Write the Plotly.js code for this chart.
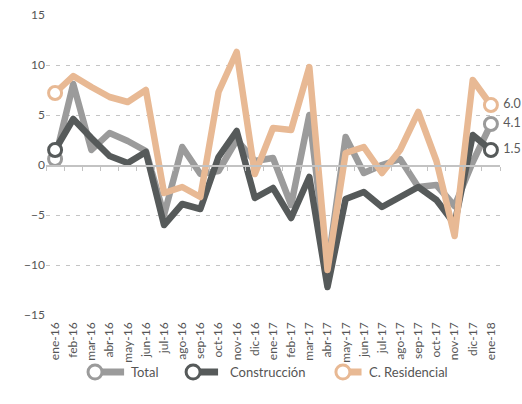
<!DOCTYPE html>
<html>
<head>
<meta charset="utf-8">
<script src="https://cdn.plot.ly/plotly-3.0.1.min.js"></script>
<style>
  html, body { margin: 0; padding: 0; background: #fff; }
  #chart { width: 522px; height: 404px; }
  .scatterlayer path.js-line { stroke-linejoin: round !important; stroke-linecap: round !important; }
</style>
</head>
<body>
<div id="chart"></div>
<script>
const months = ['ene-16','feb-16','mar-16','abr-16','may-16','jun-16','jul-16','ago-16','sep-16','oct-16','nov-16','dic-16',
                'ene-17','feb-17','mar-17','abr-17','may-17','jun-17','jul-17','ago-17','sep-17','oct-17','nov-17','dic-17','ene-18'];
const total        = [0.6, 8.1, 1.5, 3.2, 2.4, 1.4, -5.0, 1.8, -0.9, -0.6, 2.5, 0.4, 0.7, -4.0, 5.0, -10.3, 2.8, -0.8, 0.0, 0.6, -2.2, -2.0, -4.1, 0.3, 4.1];
const construccion = [1.5, 4.6, 2.7, 0.9, 0.2, 1.3, -6.0, -3.9, -4.4, 0.8, 3.4, -3.3, -2.3, -5.3, -1.2, -12.2, -3.4, -2.7, -4.2, -3.2, -2.2, -3.5, -5.9, 3.0, 1.5];
const residencial  = [7.2, 8.9, 7.8, 6.8, 6.3, 7.5, -2.8, -2.2, -3.2, 7.3, 11.3, -0.9, 3.7, 3.5, 9.8, -10.5, 1.2, 1.8, -0.8, 1.5, 5.3, 0.4, -7.1, 8.5, 6.0];
const seriesNames  = ['Total', 'Construcción', 'C. Residencial'];
const yTicks       = [-15, -10, -5, 0, 5, 10, 15];

const colors = ['#9b9b9b', '#565a5a', '#e8b994'];
const seriesData = [total, construccion, residencial];
const last = months.length - 1;

const traces = [];
seriesData.forEach((vals, i) => {
  traces.push({
    type: 'scatter', mode: 'lines', x: months, y: vals, name: seriesNames[i],
    line: { color: colors[i], width: 6.5 }, showlegend: false, hoverinfo: 'skip'
  });
});
seriesData.forEach((vals, i) => {
  traces.push({
    type: 'scatter', mode: 'markers+text',
    x: [months[0], months[last]], y: [vals[0], vals[last]],
    text: ['', '\u00a0' + vals[last].toFixed(1)], textposition: 'middle right',
    textfont: { family: 'Lato, sans-serif', size: 12.5, color: '#5a5a5a' },
    marker: { symbol: 'circle', size: 13, color: '#fff', line: { color: colors[i], width: 3 } },
    cliponaxis: false, showlegend: false, hoverinfo: 'skip'
  });
});

// tick marks along the zero line (category boundaries)
const boundaries = [];
for (let k = 0; k <= months.length; k++) boundaries.push(k - 0.5);

// custom legend
const legendX = [0.108, 0.324, 0.654];
const legendLineEnd = [0.172, 0.379, 0.695];
const legendTextX = [0.183, 0.400, 0.708];
const legendY = -0.19;
const shapes = [];
const annotations = [];
seriesNames.forEach((name, i) => {
  shapes.push({ type: 'line', xref: 'paper', yref: 'paper', x0: legendX[i], x1: legendLineEnd[i], y0: legendY, y1: legendY,
                line: { color: colors[i], width: 7 } });
  shapes.push({ type: 'circle', xref: 'paper', yref: 'paper', xsizemode: 'pixel', ysizemode: 'pixel',
                xanchor: legendX[i], yanchor: legendY, x0: -7, x1: 7, y0: -7, y1: 7,
                fillcolor: '#fff', line: { color: colors[i], width: 3 } });
  annotations.push({ xref: 'paper', yref: 'paper', x: legendTextX[i], y: legendY, xanchor: 'left', yanchor: 'middle',
                     text: name, showarrow: false, font: { family: 'Lato, sans-serif', size: 13, color: '#555' } });
});

const layout = {
  width: 522, height: 404,
  margin: { l: 46, r: 22, t: 15, b: 89 },
  paper_bgcolor: '#fff', plot_bgcolor: '#fff',
  showlegend: false,
  xaxis: {
    type: 'category', categoryorder: 'array', categoryarray: months,
    range: [-0.5, months.length - 0.5],
    showgrid: false, zeroline: false, showline: false, ticks: '',
    ticklabelstandoff: 4,
    tickangle: -90, tickfont: { family: 'Lato, sans-serif', size: 12, color: '#555' }
  },
  xaxis2: {
    overlaying: 'x', anchor: 'free', position: 0.5, range: [-0.5, months.length - 0.5],
    tickmode: 'array', tickvals: boundaries, showticklabels: false,
    ticks: 'outside', ticklen: 4, tickcolor: '#c3c3c3', tickwidth: 1,
    showline: true, linecolor: '#c3c3c3', linewidth: 1.5, showgrid: false, zeroline: false
  },
  yaxis: {
    range: [-15, 15], tickmode: 'array', tickvals: yTicks,
    showgrid: true, gridcolor: '#c4c4c4', griddash: '4px,6px', gridwidth: 1,
    zeroline: false, showline: false, ticks: '',
    tickfont: { family: 'Lato, sans-serif', size: 12, color: '#555' }
  },
  shapes: shapes,
  annotations: annotations
};

// dummy trace to activate xaxis2
traces.unshift({ type: 'scatter', mode: 'lines', x: [-0.5, months.length - 0.5], y: [0, 0], xaxis: 'x2',
                 line: { width: 0, color: 'rgba(0,0,0,0)' }, showlegend: false, hoverinfo: 'skip' });

Plotly.newPlot('chart', traces, layout, { staticPlot: true, displayModeBar: false });
</script>
</body>
</html>
